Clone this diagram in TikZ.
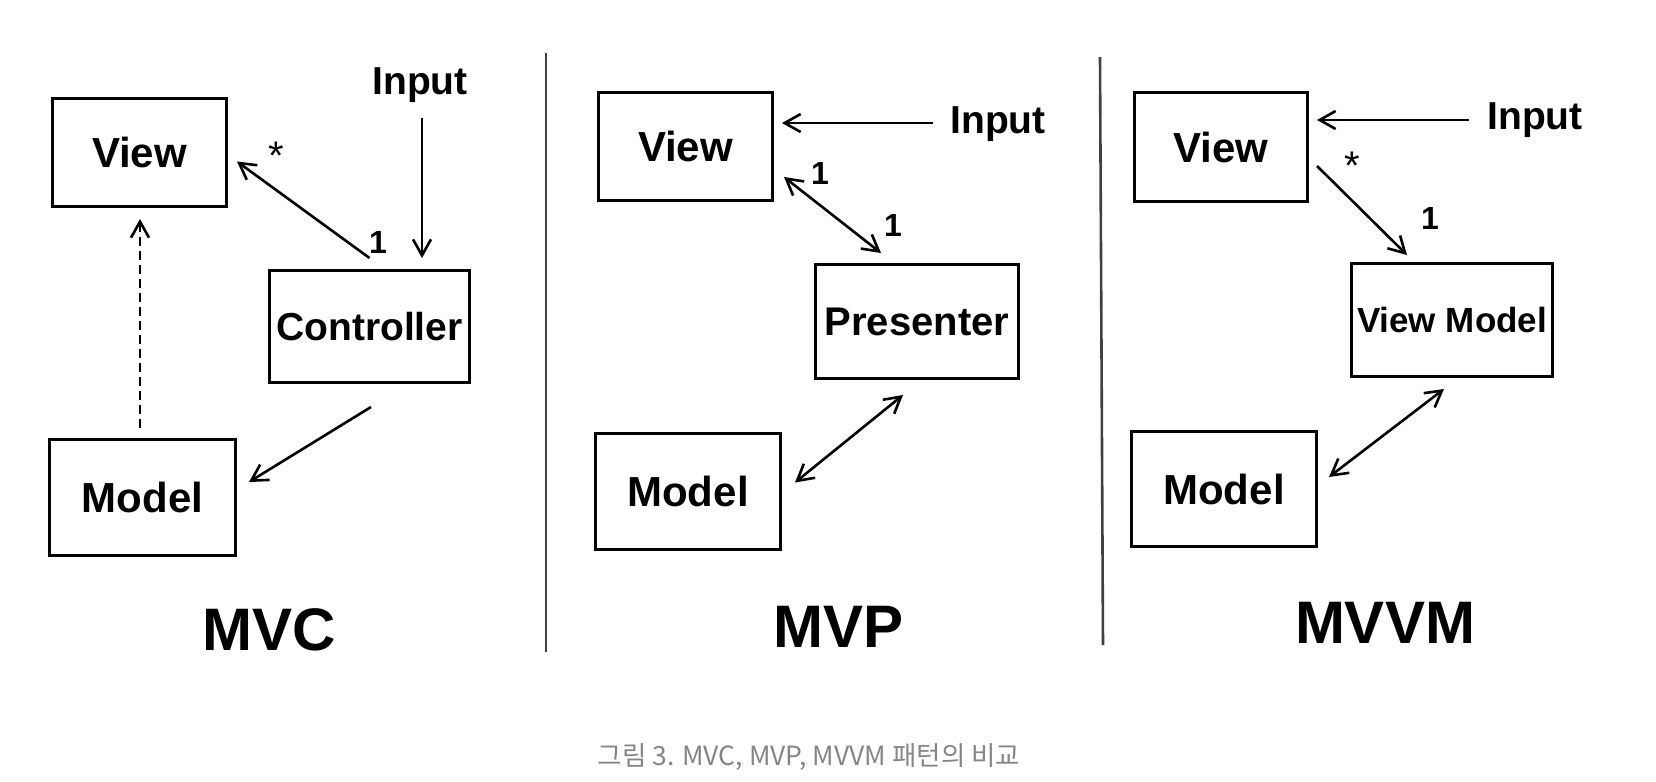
\documentclass[tikz,border=0pt]{standalone}
\usepackage{fontspec}
\setmainfont{Liberation Sans}
\newfontfamily\krfont{Noto Sans CJK KR}
\usetikzlibrary{arrows.meta,calc}

\begin{document}
\begin{tikzpicture}[x=0.5pt,y=-0.5pt,
  box/.style={draw,line width=1.5pt,inner sep=0pt,font=\bfseries\fontsize{21}{25}\selectfont},
  lbl/.style={inner sep=0pt,font=\bfseries\fontsize{19.5}{23}\selectfont},
  num/.style={inner sep=0pt,font=\bfseries\fontsize{16}{19}\selectfont},
  star/.style={inner sep=0pt,font=\fontsize{20}{24}\selectfont},
  title/.style={inner sep=0pt,font=\bfseries\fontsize{30}{36}\selectfont},
  conn/.style={line width=1.3pt,-{Straight Barb[length=8pt,width=9pt]}},
  both/.style={line width=1.3pt,{Straight Barb[length=8pt,width=9pt]}-{Straight Barb[length=8pt,width=9pt]}},
  sep/.style={line width=1.3pt,black!75},
  caption/.style={inner sep=0pt,text=black!48,font=\krfont\fontsize{13.25}{16}\selectfont}]
\useasboundingbox (0,0) rectangle (1656,782);

% MVC
\node[box,minimum width=87pt,minimum height=54pt] (mvcview) at (139.5,152.5) {View};
\node[box,minimum width=100pt,minimum height=56pt,font=\bfseries\fontsize{19.5}{23}\selectfont] (mvcctrl) at (369.5,326.5) {Controller};
\node[box,minimum width=93pt,minimum height=58pt] (mvcmodel) at (142.5,497.5) {Model};
\node[lbl] (mvcinput) at (420,85.5) {Input};
\node[star] (mvcstar) at (276,155.5) {*};
\node[num] (mvcone) at (378,242) {1};
\node[title] (mvctitle) at (269,630) {MVC};

\draw[conn] ($(mvcinput.south)+(2,15)$) -- ($(mvcinput.south |- mvcctrl.north)+(2,-11)$);
\draw[conn] ($(mvcctrl.north)+(0,-11)$) -- ($(mvcview.east)+(9,9)$);
\draw[conn,dash pattern=on 4.5pt off 2.5pt] ($(mvcmodel.north)+(-2.5,-10)$) -- ($(mvcview.south)+(0.5,11)$);
\draw[conn] ($(mvcctrl.south)+(1.5,23)$) -- ($(mvcmodel.east)+(12,-15.5)$);

\draw[sep] (546,53) -- (546,652);

% MVP
\node[box,minimum width=87pt,minimum height=54pt] (mvpview) at (685.5,146.5) {View};
\node[box,minimum width=101.5pt,minimum height=57pt,font=\bfseries\fontsize{20}{24}\selectfont] (mvppres) at (917,321.5) {Presenter};
\node[box,minimum width=92.5pt,minimum height=58pt] (mvpmodel) at (688,491.5) {Model};
\node[lbl] (mvpinput) at (998,124.5) {Input};
\node[num] (mvpone) at (820,173) {1};
\node[num] (mvptwo) at (893,225) {1};
\node[title] (mvptitle) at (839,627) {MVP};

\draw[conn] ($(mvpinput.west)+(-17,-1.5)$) -- ($(mvpview.east)+(8,-23.5)$);
\draw[both] ($(mvpview.east)+(10,30.5)$) -- ($(mvppres.north)+(-36,-10)$);
\draw[both] ($(mvppres.south)+(-14,15)$) -- ($(mvpmodel.east)+(13,-9)$);

\draw[sep] (1100,57) -- (1103,645);

% MVVM
\node[box,minimum width=86.5pt,minimum height=54.5pt] (vmview) at (1221,147) {View};
\node[box,minimum width=100.5pt,minimum height=56.5pt,font=\bfseries\fontsize{17.5}{21}\selectfont] (vmvm) at (1452,320) {View Model};
\node[box,minimum width=92.5pt,minimum height=57.5pt] (vmmodel) at (1224,489) {Model};
\node[lbl] (vminput) at (1535,120.5) {Input};
\node[star] (vmstar) at (1352,165.5) {*};
\node[num] (vmone) at (1430,218) {1};
\node[title] (vmtitle) at (1385,623) {MVVM};

\draw[conn] ($(vminput.west)+(-18,-0.5)$) -- ($(vmview.east)+(8,-27)$);
\draw[conn] ($(vmview.east)+(8,19)$) -- ($(vmvm.north)+(-45,-7)$);
\draw[both] ($(vmvm.south)+(-8,11)$) -- ($(vmmodel.east)+(11,-12)$);

% caption
\node[caption] (cap) at (809,757) {그림 3. MVC, MVP, MVVM 패턴의 비교};
\end{tikzpicture}
\end{document}
